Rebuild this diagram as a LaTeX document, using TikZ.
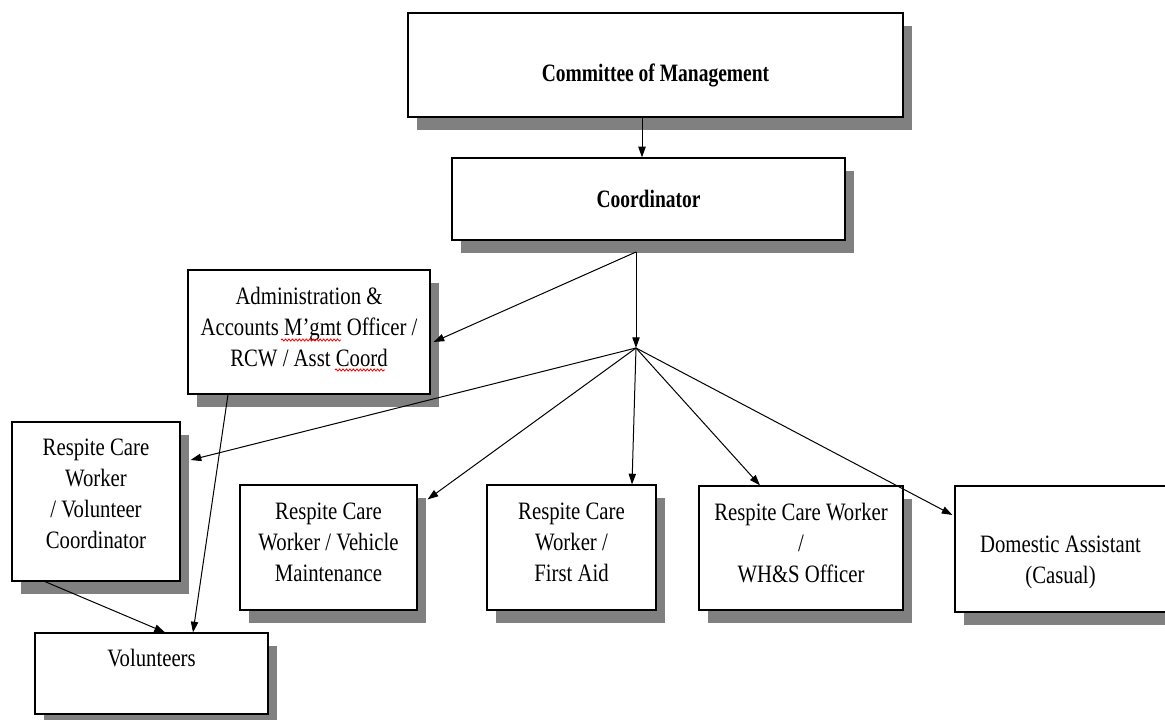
\documentclass[tikz,border=0pt]{standalone}
\usepackage{fontspec}
\setmainfont[FakeStretch=0.83,BoldFeatures={FakeStretch=0.78}]{Liberation Serif}
\usetikzlibrary{arrows.meta,shadows,calc,decorations.pathmorphing}

\tikzset{every picture/.style={line width=0.75pt}}
\tikzset{
  orgbox/.style={draw=black, line width=0.9pt, fill=white, align=center, inner sep=2pt,
    font=\fontsize{18.75}{23.25}\selectfont,
    drop shadow={shadow xshift=6.75pt, shadow yshift=-9.75pt, opacity=1, fill=black!50}},
  link/.style={-{Triangle[length=8pt,width=5.5pt]}, line width=0.75pt},
  spellmark/.style={draw=red, line width=0.6pt, decorate,
    decoration={snake, amplitude=0.8pt, segment length=2.6pt}}
}

\begin{document}
\begin{tikzpicture}[x=0.75pt,y=0.75pt,yscale=-1,xscale=1]
\useasboundingbox (0,0) rectangle (1165,720);

% Boxes
\node [orgbox, minimum width=371.25pt, minimum height=78pt, font=\fontsize{18.75}{23.25}\selectfont\bfseries] (committee) at (655.5,65) {\rule{0pt}{29pt}Committee of Management};
\node [orgbox, minimum width=294.75pt, minimum height=61.5pt, font=\fontsize{18.75}{23.25}\selectfont\bfseries] (coord) at (648.5,199) {Coordinator};
\node [orgbox, minimum width=181.5pt, minimum height=93pt] (admin) at (309,332) {Administration \&\\Accounts M’gmt Officer /\\RCW / Asst Coord\\[-15.75pt]\mbox{}};
\node [orgbox, minimum width=126pt, minimum height=119.25pt] (rcwvol) at (96,501.5) {Respite Care\\Worker\\/ Volunteer\\Coordinator\\[-11.25pt]\mbox{}};
\node [orgbox, minimum width=174.75pt, minimum height=60.75pt] (volunteers) at (151.5,673.5) {Volunteers\\\mbox{}};
\node [orgbox, minimum width=132.75pt, minimum height=93.75pt] (vehicle) at (328.5,547.5) {Respite Care\\Worker / Vehicle\\Maintenance\\[-15.75pt]\mbox{}};
\node [orgbox, minimum width=126.75pt, minimum height=93.75pt] (firstaid) at (571.5,547.5) {Respite Care\\Worker /\\First Aid\\[-15.75pt]\mbox{}};
\node [orgbox, minimum width=153pt, minimum height=93pt] (whs) at (801,548) {Respite Care Worker\\/\\WH\&S Officer\\[-15.75pt]\mbox{}};
\node [orgbox, minimum width=158.25pt, minimum height=94.5pt] (domestic) at (1060.5,549) {\rule{0pt}{32pt}Domestic Assistant\\(Casual)};

% spell check marks
\draw [spellmark] ($(admin.center)+(-28,8)$) -- ++(60,0);
\draw [spellmark] ($(admin.center)+(26,38)$) -- ++(50,0);

% Branch points
\coordinate (tap) at (636,252);
\coordinate (hub) at (636,348);

% Connectors
\draw [link] ($(committee.south)+(-13.5,0)$) -- ($(coord.north)+(-6.5,0)$);
\draw [link] (tap) -- (hub);
\draw [link] (tap) -- ($(admin.east)+(3,10)$);
\draw [link] (hub) -- ($(rcwvol.east)+(10,-41.5)$);
\draw [link] (hub) -- ($(vehicle.north east)+(10,15)$);
\draw [link] (hub) -- ($(firstaid.north)+(60.5,0)$);
\draw [link] (hub) -- ($(whs.north)+(-41,0)$);
\draw [link] (hub) -- ($(domestic.west)+(-2,-34)$);
\draw [link] ($(admin.south)+(-81,0)$) -- ($(volunteers.north)+(41.5,0)$);
\draw [link] ($(rcwvol.south)+(-51,0)$) -- ($(volunteers.north)+(13.5,0)$);

\end{tikzpicture}
\end{document}
